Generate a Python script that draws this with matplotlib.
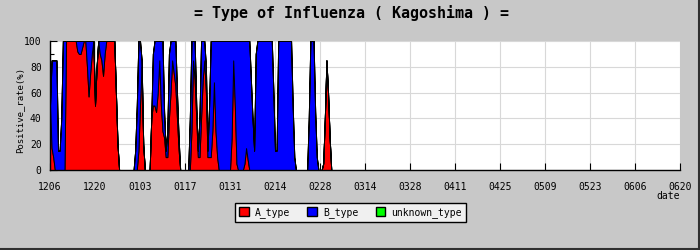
import matplotlib.pyplot as plt
from matplotlib.patches import Patch
from matplotlib.lines import Line2D
import numpy as np

# percent of positives, read twice a day, first reading = 12/06
A_type = [50, 17, 10, 0, 0, 0, 0, 0, 0, 0,
          100, 100, 100, 100, 100, 100, 100, 92, 90, 90,
          95, 100, 100, 80, 57, 75, 90, 100, 50, 80,
          100, 90, 85, 73, 90, 100, 100, 100, 100, 100,
          100, 60, 20, 0, 0, 0, 0, 0, 0, 0,
          0, 0, 0, 0, 0, 15, 50, 80, 20, 0,
          0, 0, 0, 40, 50, 50, 45, 60, 85, 50,
          30, 25, 10, 10, 40, 60, 85, 75, 65, 40,
          16, 0, 0, 0, 0, 0, 0, 0, 30, 85,
          70, 40, 10, 10, 40, 70, 85, 60, 10, 10,
          10, 30, 68, 30, 10, 0, 0, 0, 0, 0,
          0, 0, 0, 25, 85, 50, 5, 0, 0, 0,
          0, 5, 17, 8, 0, 0, 0, 0, 0, 0,
          0, 0, 0, 0, 0, 0, 0, 0, 0, 0,
          0, 0, 0, 0, 0, 0, 0, 0, 0, 0,
          0, 0, 0, 0, 0, 0, 0, 0, 0, 0,
          0, 0, 0, 0, 0, 0, 0, 0, 0, 0,
          5, 40, 85, 60, 25, 0]
B_type = [0, 68, 75, 85, 85, 15, 15, 40, 100, 100,
          0, 0, 0, 0, 0, 0, 0, 8, 10, 10,
          5, 0, 0, 20, 43, 25, 10, 0, 0, 0,
          0, 10, 15, 27, 10, 0, 0, 0, 0, 0,
          0, 0, 0, 0, 0, 0, 0, 0, 0, 0,
          0, 0, 0, 15, 50, 85, 50, 5, 0, 0,
          0, 0, 0, 0, 40, 50, 55, 40, 15, 50,
          70, 20, 5, 20, 50, 40, 15, 25, 35, 20,
          9, 0, 0, 0, 0, 0, 0, 40, 70, 15,
          30, 10, 5, 30, 60, 30, 15, 20, 5, 40,
          90, 70, 32, 70, 90, 100, 100, 100, 100, 100,
          100, 100, 100, 75, 15, 50, 95, 100, 100, 100,
          100, 95, 83, 92, 100, 70, 40, 15, 90, 100,
          100, 100, 100, 100, 100, 100, 100, 100, 100, 60,
          15, 15, 100, 100, 100, 100, 100, 100, 100, 100,
          100, 50, 10, 0, 0, 0, 0, 0, 0, 0,
          0, 40, 100, 100, 100, 45, 10, 0, 0, 0,
          0, 0, 0, 0, 0, 0]
unknown_type = [0] * len(A_type)

tick_labels = ['1206', '1220', '0103', '0117', '0131', '0214', '0228', '0314',
               '0328', '0411', '0425', '0509', '0523', '0606', '0620']

plt.rcParams['font.family'] = 'DejaVu Sans Mono'

fig = plt.figure(figsize=(7, 2.5), dpi=100, facecolor='#c8c8c8')
ax = fig.add_axes([50/700, 80/250, 630/700, 129/250])
ax.set_facecolor('white')

days = np.arange(len(A_type)) / 2
a = np.array(A_type)
b = np.array(B_type)
u = np.array(unknown_type)

ax.fill_between(days, 0, a, facecolor='#ff0000', edgecolor='black', linewidth=0.7, zorder=2)
ax.fill_between(days, a, a + b, facecolor='#0000ff', edgecolor='black', linewidth=0.7, zorder=2)
ax.fill_between(days, a + b, a + b + u, facecolor='#00ff00', edgecolor='black', linewidth=0.7, zorder=2)

ax.set_xlim(0, 14 * (len(tick_labels) - 1))
ax.set_ylim(0, 100)
ax.set_xticks(range(0, 14 * len(tick_labels), 14))
ax.set_xticklabels(tick_labels)
ax.set_yticks(range(0, 101, 20))
ax.set_yticks(range(10, 100, 20), minor=True)
ax.tick_params(direction='in', length=5, width=0.8, labelsize=7)
ax.tick_params(axis='x', pad=9)
ax.tick_params(axis='y', pad=6)
ax.tick_params(which='minor', direction='in', length=3, width=0.8)
ax.grid(True, color='#d8d8d8', linewidth=0.8, zorder=0)
ax.set_axisbelow(True)
for s in ['top', 'right']:
    ax.spines[s].set_visible(False)
for s in ['left', 'bottom']:
    ax.spines[s].set_color('black')
    ax.spines[s].set_linewidth(1)
    ax.spines[s].set_zorder(3)

fig.text(20/700, 1 - 110/250, 'Positive_rate(%)', rotation=90, ha='center', va='center', fontsize=6.5)
fig.text(680/700, 1 - 196/250, 'date', ha='right', va='center', fontsize=7)
fig.text(351/700, 1 - 13/250, '= Type of Influenza ( Kagoshima ) =', ha='center', va='center',
         fontsize=10.8, fontweight='bold')

handles = [Patch(facecolor='#ff0000', edgecolor='black', label='A_type'),
           Patch(facecolor='#0000ff', edgecolor='black', label='B_type'),
           Patch(facecolor='#00ff00', edgecolor='black', label='unknown_type')]
leg = fig.legend(handles=handles, loc='center', bbox_to_anchor=(350.5/700, 1 - 212.5/250), ncol=3,
                 fontsize=7, frameon=True, fancybox=False, framealpha=1, edgecolor='black',
                 facecolor='#f0f0f0', handlelength=1.0, handleheight=1.0, handletextpad=0.6,
                 columnspacing=1.8, borderpad=0.4)
leg.get_frame().set_linewidth(1)

# dark edge at right and bottom of the picture
fig.add_artist(Line2D([0, 1], [0.003, 0.003], color='#303030', linewidth=1.5, transform=fig.transFigure))
fig.add_artist(Line2D([0.998, 0.998], [0, 1], color='#303030', linewidth=1.5, transform=fig.transFigure))

fig.savefig('out.png', dpi=100, facecolor=fig.get_facecolor())
